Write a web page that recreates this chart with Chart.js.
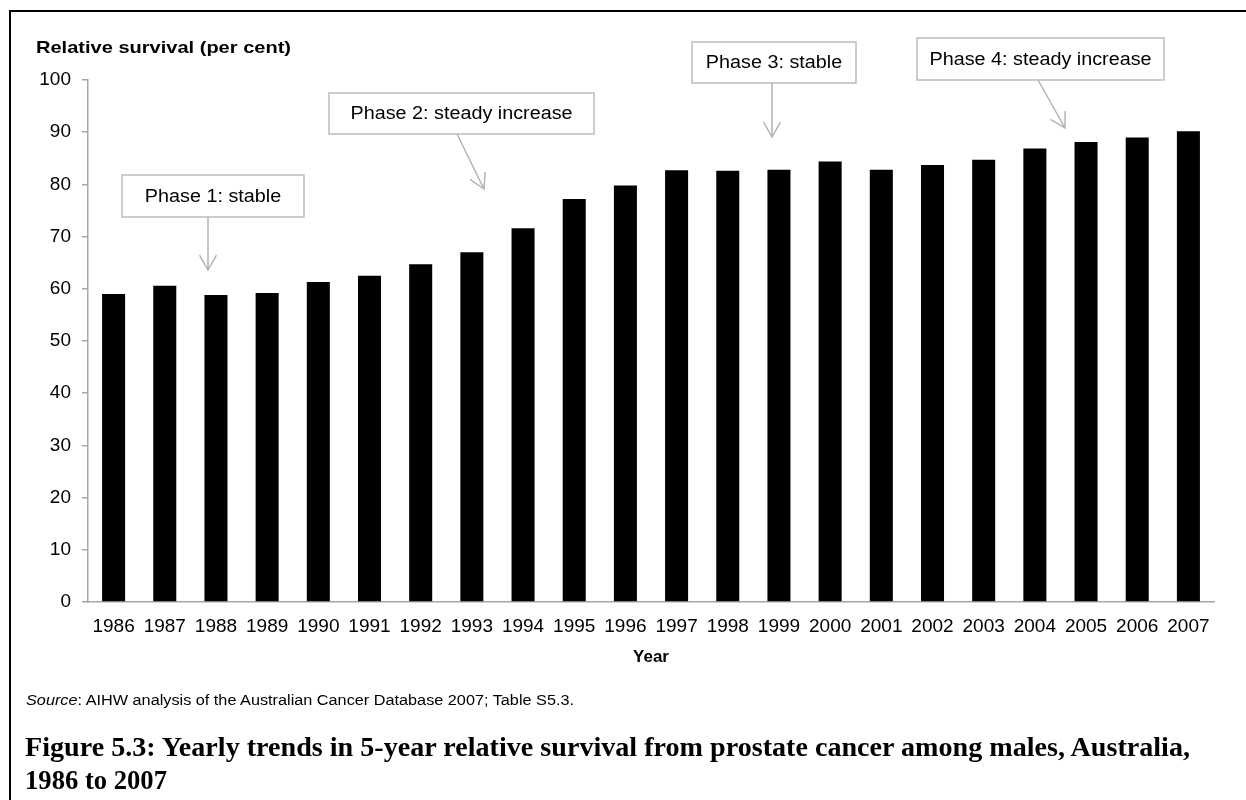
<!DOCTYPE html>
<html>
<head>
<meta charset="utf-8">
<script src="https://cdn.jsdelivr.net/npm/chart.js"></script>
<style>
  body { margin: 0; background: #fff; font-family: "Liberation Sans", Arial, sans-serif; }
  #wrap { position: relative; width: 1246px; height: 800px; overflow: hidden; }
  #frame { position: absolute; left: 9px; top: 10px; right: -10px; bottom: -10px; border-top: 2px solid #000; border-left: 2px solid #000; }
  #chart { position: absolute; left: 0; top: 0; }
  #ytitle { position: absolute; left: 36px; top: 38px; font-weight: bold; font-size: 17px; line-height: 20px; white-space: nowrap; transform-origin: left top; }
  #source { position: absolute; left: 26px; top: 690px; font-size: 15.5px; line-height: 20px; white-space: nowrap; transform-origin: left top; }
  #caption { position: absolute; left: 25px; top: 731px; font-family: "Liberation Serif", serif; font-weight: bold; font-size: 26.5px; line-height: 33px; white-space: nowrap; }
  #caption span { display: inline-block; transform-origin: left top; }
</style>
</head>
<body>
<div id="wrap">
  <canvas id="chart" width="1246" height="800"></canvas>
  <div id="frame"></div>
  <div id="ytitle">Relative survival (per cent)</div>
  <div id="source"><i>Source</i>: AIHW analysis of the Australian Cancer Database 2007; Table S5.3.</div>
  <div id="caption"><span id="cap1">Figure 5.3: Yearly trends in 5-year relative survival from prostate cancer among males, Australia,</span><br><span id="cap2">1986 to 2007</span></div>
</div>
<script>
var years = ["1986", "1987", "1988", "1989", "1990", "1991", "1992", "1993", "1994", "1995", "1996",
  "1997", "1998", "1999", "2000", "2001", "2002", "2003", "2004", "2005", "2006", "2007"];
var survival = [59.0, 60.6, 58.8, 59.2, 61.3, 62.5, 64.7, 67.0, 71.6, 77.2, 79.8,
  82.7, 82.6, 82.8, 84.4, 82.8, 83.7, 84.7, 86.9, 88.1, 89.0, 90.2];
var phaseLabels = ["Phase 1: stable", "Phase 2: steady increase", "Phase 3: stable", "Phase 4: steady increase"];

// call-out boxes (pixels): box rect, arrow start and tip
var callouts = [
  { box: [122, 175, 182, 42], from: [208, 217], to: [208, 270] },
  { box: [329, 93, 265, 41], from: [457, 134], to: [484, 189] },
  { box: [692, 42, 164, 41], from: [772, 83], to: [772, 137] },
  { box: [917, 38, 247, 42], from: [1038, 80], to: [1065, 128] }
];

var gray = "#a6a6a6";

var calloutPlugin = {
  id: "callouts",
  afterDraw(chart) {
    var ctx = chart.ctx;
    ctx.save();
    callouts.forEach(function (c, i) {
      var b = c.box;
      ctx.fillStyle = "#fff";
      ctx.fillRect(b[0], b[1], b[2], b[3]);
      ctx.strokeStyle = "#bdbdbd";
      ctx.lineWidth = 1.5;
      ctx.strokeRect(b[0], b[1], b[2], b[3]);
      // text, a bit wider than the font would give
      ctx.fillStyle = "#000";
      ctx.font = "17.5px 'Liberation Sans', Arial, sans-serif";
      ctx.textBaseline = "middle";
      ctx.textAlign = "center";
      var cx = b[0] + b[2] / 2, cy = b[1] + b[3] / 2 + 1;
      ctx.save();
      ctx.translate(cx, cy);
      ctx.scale(1.13, 1);
      ctx.fillText(phaseLabels[i], 0, 0);
      ctx.restore();
      // arrow
      var dx = c.to[0] - c.from[0], dy = c.to[1] - c.from[1];
      var ang = Math.atan2(dy, dx);
      ctx.strokeStyle = "#b4b4b4";
      ctx.lineWidth = 1.5;
      ctx.beginPath();
      ctx.moveTo(c.from[0], c.from[1]);
      ctx.lineTo(c.to[0], c.to[1]);
      var len = 17, spread = 0.52;
      ctx.moveTo(c.to[0] - len * Math.cos(ang - spread), c.to[1] - len * Math.sin(ang - spread));
      ctx.lineTo(c.to[0], c.to[1]);
      ctx.lineTo(c.to[0] - len * Math.cos(ang + spread), c.to[1] - len * Math.sin(ang + spread));
      ctx.stroke();
    });
    ctx.restore();
  }
};

new Chart(document.getElementById("chart"), {
  type: "bar",
  data: {
    labels: years,
    datasets: [
      {
        data: survival,
        backgroundColor: "#000",
        borderWidth: 0,
        barPercentage: 0.45,
        categoryPercentage: 1,
      },
    ],
  },
  options: {
    responsive: false,
    animation: false,
    layout: { padding: { left: 0, right: 32, top: 80, bottom: 132 } },
    plugins: { legend: { display: false }, tooltip: { enabled: false } },
    scales: {
      x: {
        grid: { display: false, drawTicks: false },
        border: { display: true, color: gray, width: 1.5 },
        ticks: { color: "#000", font: { size: 19, family: "'Liberation Sans', Arial" }, padding: 13, maxRotation: 0, autoSkip: false },
        title: { display: true, text: "Year", color: "#000", font: { size: 17, weight: "bold", family: "'Liberation Sans', Arial" }, padding: { top: 10, bottom: 0 } },
        afterFit(scale) { scale.height = 66; },
      },
      y: {
        min: 0,
        max: 100,
        ticks: { stepSize: 10, color: "#000", font: { size: 19, family: "'Liberation Sans', Arial" }, padding: 11 },
        grid: { drawOnChartArea: false, color: gray, tickLength: 6, lineWidth: 1.5 },
        border: { color: gray, width: 1.5 },
        afterFit(scale) { scale.width = 88; },
      },
    },
  },
  plugins: [calloutPlugin],
});

// stretch the texts to the widths of the original figure
function fitWidth(id, target) {
  var el = document.getElementById(id);
  var w = el.getBoundingClientRect().width;
  if (w > 0) el.style.transform = "scaleX(" + (target / w) + ")";
}
fitWidth("ytitle", 255);
fitWidth("source", 548);
fitWidth("cap1", 1165);
fitWidth("cap2", 142);
</script>
</body>
</html>
